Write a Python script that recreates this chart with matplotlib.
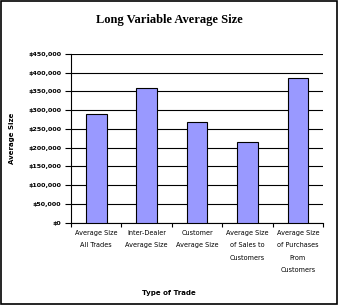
import matplotlib
matplotlib.use('Agg')
import matplotlib.pyplot as plt
from matplotlib.patches import Rectangle
from matplotlib.ticker import FuncFormatter, FixedLocator

categories = ['Average Size\nAll Trades', 'Inter-Dealer\nAverage Size', 'Customer\nAverage Size',
              'Average Size\nof Sales to\nCustomers', 'Average Size\nof Purchases\nFrom\nCustomers']
values = [290000, 358000, 268000, 214000, 385000]
yticks = list(range(0, 450001, 50000))

fig = plt.figure(figsize=(3.38, 3.05), dpi=100)
ax = fig.add_axes([0.210, 0.270, 0.746, 0.553])

pos = list(range(len(categories)))
ax.bar(pos, values, width=0.41, color='#9999FF', edgecolor='black', linewidth=0.8, zorder=3)

ax.set_xlim(-0.5, len(categories) - 0.5)
ax.set_ylim(0, 450000)
ax.set_yticks(yticks)
ax.yaxis.set_major_formatter(FuncFormatter(lambda v, p: '${:,.0f}'.format(v)))
ax.grid(axis='y', color='black', linewidth=0.8, zorder=0)

ax.xaxis.set_major_locator(FixedLocator([i - 0.5 for i in range(len(categories) + 1)]))
ax.xaxis.set_major_formatter(FuncFormatter(lambda v, p: ''))
ax.xaxis.set_minor_locator(FixedLocator(pos))
ax.set_xticklabels(categories, minor=True, fontsize=4.7, linespacing=2.3)
ax.tick_params(axis='x', which='minor', length=0, pad=5)
ax.tick_params(axis='x', which='major', length=3, width=0.8, direction='out')
ax.tick_params(axis='y', length=4, width=0.8, labelsize=4.6, pad=3)
for lbl in ax.get_yticklabels():
    lbl.set_fontweight('bold')

for s in ['top', 'right']:
    ax.spines[s].set_visible(False)
for s in ['left', 'bottom']:
    ax.spines[s].set_linewidth(0.8)

fig.text(0.5, 0.934, 'Long Variable Average Size', ha='center', va='center',
         family='Liberation Serif', fontweight='bold', fontsize=9)
fig.text(0.036, 0.546, 'Average Size', rotation=90, ha='center', va='center',
         fontsize=5, fontweight='bold')
fig.text(0.5, 0.04, 'Type of Trade', ha='center', va='center', fontsize=5, fontweight='bold')

fig.patches.append(Rectangle((0.002, 0.002), 0.994, 0.994, transform=fig.transFigure,
                             fill=False, edgecolor='black', linewidth=1.2))

fig.savefig('out.png', dpi=100)
